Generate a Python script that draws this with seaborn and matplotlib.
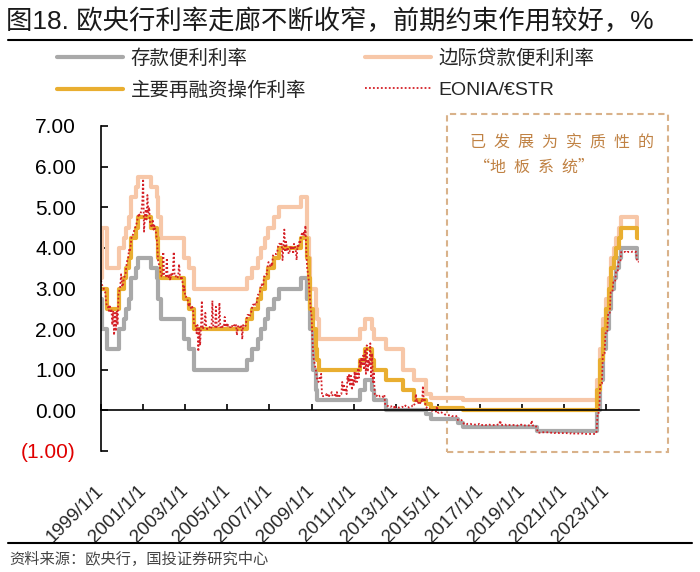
import numpy as np
import pandas as pd
import matplotlib
matplotlib.use("Agg")
import matplotlib.pyplot as plt
import seaborn as sns
from matplotlib.lines import Line2D
from matplotlib.patches import Rectangle

# ---------------- data ----------------
policy_dates = [
    "1999-01-01", "1999-01-22", "1999-04-09", "1999-11-05", "2000-02-04", "2000-03-17",
    "2000-04-28", "2000-06-09", "2000-09-01", "2000-10-06", "2001-05-11", "2001-08-31",
    "2001-09-18", "2001-11-09", "2002-12-06", "2003-03-07", "2003-06-06", "2005-12-06",
    "2006-03-08", "2006-06-15", "2006-08-09", "2006-10-11", "2006-12-13", "2007-03-14",
    "2007-06-13", "2008-07-09", "2008-10-08", "2008-10-09", "2008-10-15", "2008-11-12",
    "2008-12-10", "2009-01-21", "2009-03-11", "2009-04-08", "2009-05-13", "2011-04-13",
    "2011-07-13", "2011-11-09", "2011-12-14", "2012-07-11", "2013-05-08", "2013-11-13",
    "2014-06-11", "2014-09-10", "2015-12-09", "2016-03-16", "2019-09-18", "2022-07-27",
    "2022-09-14", "2022-11-02", "2022-12-21", "2023-02-08", "2023-03-22", "2023-05-10",
    "2023-06-21", "2023-08-02", "2023-09-20", "2024-06-12", "2024-07-16",
]
deposit_rate = [
    2.75, 2.00, 1.50, 2.00, 2.25, 2.50, 2.75, 3.25, 3.50, 3.75, 3.50, 3.25,
    2.75, 2.25, 1.75, 1.50, 1.00, 1.25, 1.50, 1.75, 2.00, 2.25, 2.50, 2.75,
    3.00, 3.25, 2.75, 3.25, 3.25, 2.75, 2.00, 1.00, 0.50, 0.25, 0.25, 0.50,
    0.75, 0.50, 0.25, 0.00, 0.00, 0.00, -0.10, -0.20, -0.30, -0.40, -0.50, 0.00,
    0.75, 1.50, 2.00, 2.50, 3.00, 3.25, 3.50, 3.75, 4.00, 3.75, 3.75,
]
mro_rate = [
    3.00, 3.00, 2.50, 3.00, 3.25, 3.50, 3.75, 4.25, 4.50, 4.75, 4.50, 4.25,
    3.75, 3.25, 2.75, 2.50, 2.00, 2.25, 2.50, 2.75, 3.00, 3.25, 3.50, 3.75,
    4.00, 4.25, 4.25, 4.25, 3.75, 3.25, 2.50, 2.00, 1.50, 1.25, 1.00, 1.25,
    1.50, 1.25, 1.00, 0.75, 0.50, 0.25, 0.15, 0.05, 0.05, 0.00, 0.00, 0.50,
    1.25, 2.00, 2.50, 3.00, 3.50, 3.75, 4.00, 4.25, 4.50, 4.25, 4.25,
]
mlf_rate = [
    3.25, 4.50, 3.50, 4.00, 4.25, 4.50, 4.75, 5.25, 5.50, 5.75, 5.50, 5.25,
    4.75, 4.25, 3.75, 3.50, 3.00, 3.25, 3.50, 3.75, 4.00, 4.25, 4.50, 4.75,
    5.00, 5.25, 4.75, 4.25, 4.25, 3.75, 3.00, 3.00, 2.50, 2.25, 1.75, 2.00,
    2.25, 2.00, 1.75, 1.50, 1.00, 0.75, 0.40, 0.30, 0.30, 0.25, 0.25, 0.75,
    1.50, 2.25, 2.75, 3.25, 3.75, 4.00, 4.25, 4.50, 4.75, 4.50, 4.50,
]

# EONIA / €STR, read twice a month (1st and 16th)
e1999 = [3.20, 3.10, 3.05, 3.00, 2.95, 2.90, 2.65, 2.55, 2.55, 2.45, 2.60, 2.40,
         2.50, 2.10, 2.45, 1.85, 2.40, 1.95, 2.45, 2.10, 2.90, 2.95, 3.05, 3.35]
e2000 = [3.05, 3.05, 3.25, 3.30, 3.35, 3.55, 3.70, 3.75, 3.95, 3.90, 4.10, 4.30,
         4.30, 4.35, 4.45, 4.50, 4.55, 4.65, 4.75, 4.85, 4.80, 4.85, 4.90, 5.10]
e2001 = [5.70, 4.40, 4.80, 4.95, 4.70, 5.30, 4.85, 5.00, 4.60, 4.55, 4.50, 4.70,
         4.45, 4.55, 4.45, 4.35, 4.10, 3.70, 3.60, 3.55, 3.40, 3.30, 3.30, 3.90]
e2002 = [3.35, 3.30, 3.30, 3.75, 3.30, 3.25, 3.35, 3.20, 3.35, 3.30, 3.40, 3.90,
         3.30, 3.30, 3.30, 3.25, 3.30, 3.60, 3.30, 3.25, 3.30, 3.15, 2.95, 3.05]
e2003 = [2.80, 2.80, 2.75, 2.70, 2.55, 2.65, 2.55, 2.50, 2.55, 2.50, 2.15, 2.10,
         2.10, 1.90, 2.10, 1.45, 2.05, 1.60, 2.05, 2.70, 2.00, 2.05, 2.10, 2.40]
e2004 = [2.05, 2.00, 2.05, 2.05, 2.05, 2.00, 2.05, 2.70, 2.05, 2.05, 2.05, 2.55,
         2.05, 2.05, 2.05, 2.65, 2.05, 2.05, 2.10, 2.05, 2.05, 2.30, 2.05, 2.15]
e2005 = [2.05, 2.10, 2.05, 2.05, 2.05, 2.10, 2.05, 2.05, 2.10, 2.05, 2.10, 1.85,
         2.05, 2.10, 2.05, 2.05, 2.10, 1.75, 2.10, 2.05, 2.05, 2.10, 2.25, 2.35]
e2006 = [2.35, 2.30, 2.35, 2.40, 2.50, 2.60, 2.60, 2.65, 2.60, 2.60, 2.70, 2.85,
         2.85, 2.90, 3.05, 3.10, 3.05, 3.10, 3.30, 3.30, 3.35, 3.35, 3.55, 3.65]
e2007 = [3.60, 3.55, 3.60, 3.55, 3.80, 3.85, 3.85, 3.85, 3.85, 3.90, 4.05, 4.10,
         4.10, 4.05, 4.10, 3.70, 4.05, 4.45, 3.90, 4.15, 3.95, 4.00, 3.85, 3.90]
e2008 = [4.05, 3.95, 4.05, 3.85, 4.10, 4.05, 3.95, 3.70, 4.05, 4.00, 4.15, 4.10,
         4.30, 4.35, 4.30, 4.40, 4.30, 4.55, 3.90, 3.50, 3.35, 3.15, 2.80, 2.50]
e2009 = [2.30, 1.75, 1.30, 1.20, 1.10, 1.00, 0.80, 0.75, 0.70, 0.80, 0.75, 0.90,
         0.35, 0.35, 0.35, 0.35, 0.35, 0.40, 0.35, 0.40, 0.35, 0.40, 0.40, 0.45]
e2010 = [0.35, 0.35, 0.35, 0.40, 0.35, 0.45, 0.35, 0.40, 0.35, 0.40, 0.40, 0.70,
         0.50, 0.65, 0.45, 0.55, 0.40, 0.85, 0.70, 0.90, 0.60, 0.85, 0.50, 0.75]
e2011 = [0.60, 0.95, 0.70, 0.95, 0.70, 1.00, 0.80, 1.25, 1.05, 1.30, 1.10, 1.35,
         1.00, 1.50, 0.90, 1.60, 0.95, 1.25, 1.10, 1.65, 0.80, 1.40, 0.70, 0.95]
e2012 = [0.40, 0.35, 0.35, 0.38, 0.35, 0.36, 0.34, 0.35, 0.33, 0.34, 0.33, 0.38,
         0.13, 0.12, 0.11, 0.11, 0.10, 0.11, 0.09, 0.10, 0.08, 0.09, 0.07, 0.13]
e2013 = [0.07, 0.08, 0.07, 0.07, 0.07, 0.08, 0.08, 0.09, 0.08, 0.07, 0.09, 0.12,
         0.09, 0.08, 0.08, 0.07, 0.08, 0.08, 0.09, 0.12, 0.10, 0.14, 0.17, 0.40]
e2014 = [0.20, 0.25, 0.16, 0.20, 0.18, 0.25, 0.20, 0.60, 0.25, 0.30, 0.10, 0.08,
         0.04, 0.05, 0.02, 0.03, 0.01, -0.01, 0.00, -0.01, -0.01, -0.02, -0.03, 0.10]
e2015 = [-0.05, -0.06, -0.04, -0.05, -0.05, -0.06, -0.07, -0.08, -0.10, -0.11, -0.12, -0.12,
         -0.12, -0.12, -0.12, -0.12, -0.14, -0.14, -0.14, -0.14, -0.13, -0.14, -0.20, -0.24]
e2016 = [-0.24, -0.24, -0.24, -0.24, -0.29, -0.31, -0.34, -0.34, -0.34, -0.34, -0.33, -0.33,
         -0.33, -0.33, -0.34, -0.34, -0.34, -0.34, -0.35, -0.35, -0.35, -0.35, -0.35, -0.33]
e2017 = [-0.35, -0.36, -0.36, -0.36, -0.36, -0.35, -0.36, -0.36, -0.36, -0.36, -0.36, -0.35,
         -0.36, -0.36, -0.36, -0.36, -0.36, -0.36, -0.36, -0.36, -0.35, -0.35, -0.35, -0.25]
e2018 = [-0.37, -0.36, -0.36, -0.36, -0.36, -0.35, -0.37, -0.37, -0.36, -0.36, -0.36, -0.36,
         -0.36, -0.36, -0.36, -0.36, -0.36, -0.36, -0.37, -0.37, -0.36, -0.36, -0.36, -0.35]
e2019 = [-0.37, -0.37, -0.37, -0.37, -0.37, -0.37, -0.37, -0.37, -0.37, -0.37, -0.36, -0.25,
         -0.37, -0.37, -0.36, -0.37, -0.40, -0.46, -0.55, -0.55, -0.55, -0.55, -0.54, -0.54]
e2020 = [-0.54, -0.54, -0.54, -0.54, -0.54, -0.54, -0.54, -0.55, -0.55, -0.55, -0.55, -0.55,
         -0.55, -0.56, -0.55, -0.55, -0.55, -0.55, -0.56, -0.56, -0.56, -0.56, -0.56, -0.56]
e2021 = [-0.56, -0.56, -0.56, -0.56, -0.57, -0.57, -0.57, -0.57, -0.56, -0.57, -0.56, -0.57,
         -0.57, -0.57, -0.57, -0.57, -0.57, -0.57, -0.57, -0.57, -0.57, -0.57, -0.58, -0.58]
e2022 = [-0.58, -0.58, -0.58, -0.58, -0.58, -0.58, -0.58, -0.58, -0.58, -0.58, -0.58, -0.58,
         -0.58, -0.51, -0.09, -0.09, 0.10, 0.66, 0.66, 0.66, 1.40, 1.40, 1.40, 1.90]
e2023 = [1.90, 1.90, 2.40, 2.40, 2.40, 2.90, 2.90, 2.90, 3.15, 3.15, 3.15, 3.40,
         3.40, 3.40, 3.65, 3.65, 3.65, 3.90, 3.90, 3.90, 3.90, 3.90, 3.90, 3.88]
e2024 = [3.90, 3.90, 3.90, 3.91, 3.91, 3.90, 3.91, 3.91, 3.91, 3.90, 3.90, 3.66,
         3.66, 3.66]

eonia_values = (e1999 + e2000 + e2001 + e2002 + e2003 + e2004 + e2005 + e2006 + e2007
                + e2008 + e2009 + e2010 + e2011 + e2012 + e2013 + e2014 + e2015 + e2016
                + e2017 + e2018 + e2019 + e2020 + e2021 + e2022 + e2023 + e2024)

tick_years = list(range(1999, 2024, 2))
tick_labels = [f"{y}/1/1" for y in tick_years]
y_ticks = [-1, 0, 1, 2, 3, 4, 5, 6, 7]

labels = ["存款便利利率", "边际贷款便利利率", "主要再融资操作利率", "EONIA/€STR"]
title = "图18. 欧央行利率走廊不断收窄，前期约束作用较好，%"
source = "资料来源：欧央行，国投证券研究中心"
note1 = "已发展为实质性的"
note2_chars = "地板系统"

# ---------------- build frames ----------------
policy = pd.DataFrame({
    "date": pd.to_datetime(policy_dates),
    "dep": deposit_rate, "mro": mro_rate, "mlf": mlf_rate,
})
eonia_dates = []
for y in range(1999, 2025):
    for m in range(1, 13):
        for d in (1, 16):
            eonia_dates.append(pd.Timestamp(year=y, month=m, day=d))
eonia = pd.DataFrame({"date": eonia_dates[:len(eonia_values)], "val": eonia_values})

# ---------------- style ----------------
sns.set_theme(style="white")
plt.rcParams["font.family"] = ["Liberation Sans", "Noto Sans CJK SC", "DejaVu Sans"]
plt.rcParams["axes.unicode_minus"] = False

C_GRAY = "#A9A9A9"
C_PEACH = "#F7C7A8"
C_GOLD = "#E9AE30"
C_RED = "#D41F26"

fig = plt.figure(figsize=(7.0, 5.72), dpi=100)
ax = fig.add_axes([101 / 700, 1 - 451 / 572, (639 - 101) / 700, (451 - 126) / 572])

sns.lineplot(data=policy, x="date", y="dep", ax=ax, color=C_GRAY, lw=3.0,
             drawstyle="steps-post", label=labels[0])
sns.lineplot(data=policy, x="date", y="mlf", ax=ax, color=C_PEACH, lw=3.0,
             drawstyle="steps-post", label=labels[1])
sns.lineplot(data=policy, x="date", y="mro", ax=ax, color=C_GOLD, lw=3.0,
             drawstyle="steps-post", label=labels[2])
sns.lineplot(data=eonia, x="date", y="val", ax=ax, color=C_RED, lw=1.3,
             linestyle=(0, (1, 1.2)), label=labels[3])

handles, labs = ax.get_legend_handles_labels()
if ax.legend_ is not None:
    ax.legend_.remove()

ax.set_xlim(pd.Timestamp("1999-01-01"), pd.Timestamp("2024-07-20"))
ax.set_ylim(-1, 7)
ax.set_xlabel("")
ax.set_ylabel("")

for s in ("top", "right"):
    ax.spines[s].set_visible(False)
ax.spines["left"].set_color("black")
ax.spines["left"].set_linewidth(1.2)
ax.spines["bottom"].set_position(("data", 0))
ax.spines["bottom"].set_color("black")
ax.spines["bottom"].set_linewidth(1.2)

ax.set_xticks([pd.Timestamp(f"{y}-01-01") for y in tick_years])
ax.set_xticklabels(tick_labels, rotation=45, ha="right", va="center",
                   rotation_mode="anchor", fontsize=13.5)
ax.tick_params(axis="x", direction="in", length=4, width=1.2, color="black",
               pad=56, bottom=True)

ylabels = [f"({abs(v):.2f})" if v < 0 else f"{v:.2f}" for v in y_ticks]
ax.set_yticks(y_ticks)
ax.set_yticklabels(ylabels, fontsize=15)
ax.tick_params(axis="y", direction="in", length=5, width=1.2, color="black",
               pad=18, left=True)
for t, v in zip(ax.get_yticklabels(), y_ticks):
    t.set_color("#E00000" if v < 0 else "black")
ax.grid(False)

# dashed box and note
ax.add_patch(Rectangle(((447 - 101) / 538, (451 - 452) / 325), (668 - 447) / 538,
                       (452 - 114) / 325, transform=ax.transAxes, fill=False,
                       ls=(0, (3, 2)), lw=1.5, ec="#D9B28A", clip_on=False))
fig.text(470 / 700, 1 - 143 / 572, "\u2002".join(note1), fontsize=11.5, color="#C08244",
         va="center", ha="left", family=["Noto Sans CJK SC", "DejaVu Sans"])
fig.text(474 / 700, 1 - 167 / 572, "“" + "\u2002".join(note2_chars) + "”", fontsize=11.5,
         color="#C08244", va="center", ha="left", family=["Noto Sans CJK SC", "DejaVu Sans"])

# legend
order = [0, 2, 1, 3]
fig.legend([handles[i] for i in order], [labs[i] for i in order], loc="upper left",
           bbox_to_anchor=(57 / 700, 1 - 49 / 572), ncol=2, frameon=False,
           fontsize=14, handlelength=3.4, handletextpad=0.4, columnspacing=3.0,
           labelspacing=0.7, borderpad=0, borderaxespad=0)

# title, rules, source
fig.text(6 / 700, 1 - 21 / 572, title, fontsize=19, fontweight="medium", color="#1a1a1a",
         va="center", ha="left")
fig.add_artist(Line2D([8 / 700, 692 / 700], [1 - 40 / 572] * 2, color="black", lw=1.5))
fig.add_artist(Line2D([8 / 700, 692 / 700], [1 - 543 / 572] * 2, color="black", lw=1.5))
fig.text(9 / 700, 1 - 559 / 572, source, fontsize=11, color="#444444", va="center",
         ha="left")

fig.savefig("out.png", dpi=100)
